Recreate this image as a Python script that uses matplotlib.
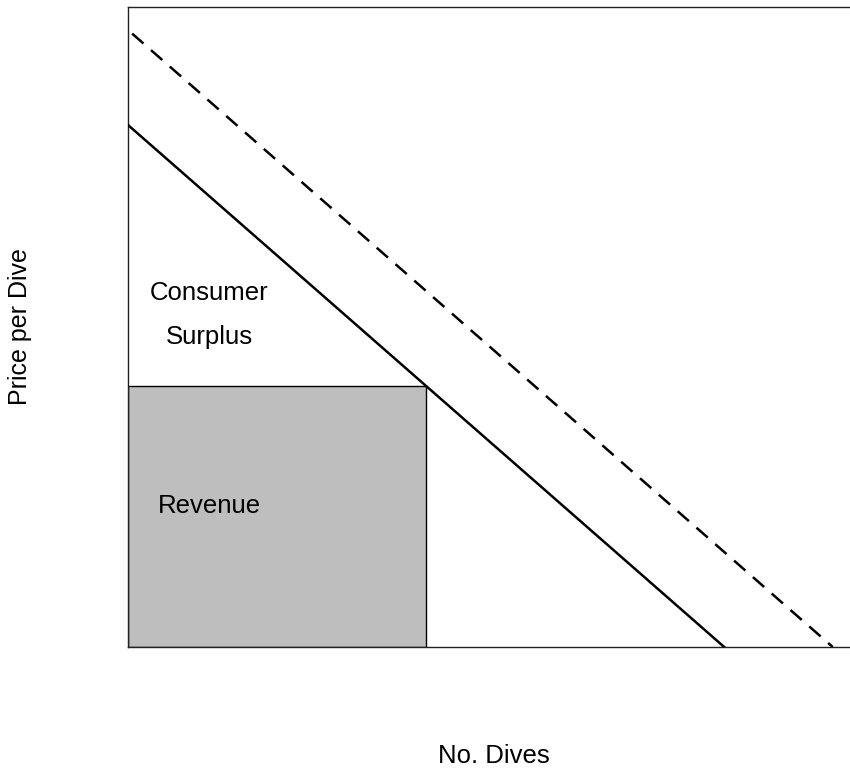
import matplotlib
matplotlib.use("Agg")
import matplotlib.pyplot as plt
from matplotlib.patches import Rectangle

plt.rcParams['font.family'] = ['Liberation Sans', 'DejaVu Sans']

# Data
demand_q = [0, 10]
demand_p = [10, 0]
shifted_q = [0.07, 11.82]
shifted_p = [11.75, 0]
price = 5
quantity = 5
xlim = (0, 12.11)
ylim = (0, 12.26)
labels = {"Consumer": (1.36, 6.78), "Surplus": (1.36, 5.94), "Revenue": (1.37, 2.70)}

fig = plt.figure(figsize=(8.5, 7.69), dpi=100)
ax = fig.add_axes([128/850, (769-647)/769, (850-128)/850, 640/769])

ax.add_patch(Rectangle((0, 0), quantity, price, facecolor='#bebebe',
                       edgecolor='black', linewidth=1.0, zorder=2))
ax.plot(demand_q, demand_p, color='black', linewidth=1.8, zorder=3)
ax.plot(shifted_q, shifted_p, color='black', linewidth=1.8,
        dashes=(6, 4), zorder=3)

for txt, (x, y) in labels.items():
    ax.text(x, y, txt, ha='center', va='center', fontsize=18.5)

ax.set_xlim(*xlim)
ax.set_ylim(*ylim)
ax.set_xticks([])
ax.set_yticks([])
ax.spines['right'].set_visible(False)
for s in ax.spines.values():
    s.set_linewidth(1.0)
    s.set_color('#222222')

fig.text(494/850, 1 - 756/769, "No. Dives", ha='center', va='center', fontsize=18.5)
fig.text(20/850, 1 - 327/769, "Price per Dive", ha='center', va='center',
         rotation=90, fontsize=18)

fig.savefig("out.png", dpi=100)
